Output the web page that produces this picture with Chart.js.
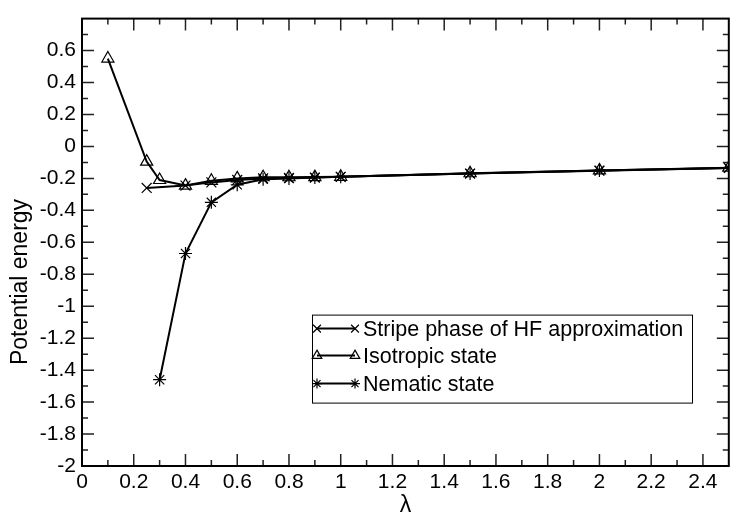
<!DOCTYPE html>
<html>
<head>
<meta charset="utf-8">
<script src="https://cdn.jsdelivr.net/npm/chart.js@4.4.1/dist/chart.umd.min.js"></script>
<style>
  body { margin: 0; background: #fff; }
</style>
</head>
<body>
<canvas id="energyChart" width="737" height="515"></canvas>
<script>
// data
const stripeX = [0.25, 0.4, 0.5, 0.6, 0.7, 0.8, 0.9, 1.0, 1.5, 2.0, 2.5];
const stripeY = [-0.26, -0.245, -0.225, -0.21, -0.2, -0.197, -0.195, -0.19, -0.17, -0.152, -0.135];
const isoX = [0.1, 0.25, 0.3, 0.4, 0.5, 0.6, 0.7, 0.8, 0.9, 1.0, 1.5, 2.0, 2.5];
const isoY = [0.55, -0.095, -0.21, -0.245, -0.215, -0.2, -0.193, -0.193, -0.192, -0.19, -0.168, -0.15, -0.133];
const nemX = [0.3, 0.4, 0.5, 0.6, 0.7, 0.8, 0.9, 1.0, 1.5, 2.0, 2.5];
const nemY = [-1.46, -0.67, -0.35, -0.24, -0.205, -0.2, -0.195, -0.19, -0.17, -0.15, -0.135];

const seriesNames = ["Stripe phase of HF approximation", "Isotropic state", "Nematic state"];
const xTitle = "λ";
const yTitle = "Potential energy";

const FONT = "'Liberation Sans', Arial, sans-serif";

function toPoints(xs, ys) {
  let pts = [];
  for (let i = 0; i < xs.length; i++) {
    pts.push({ x: xs[i], y: ys[i] });
  }
  return pts;
}

const markers = [
  { style: "crossRot", radius: 7 },
  { style: "triangle", radius: 7 },
  { style: "star", radius: 6.5 },
];

function makeDataset(label, pts, m) {
  return {
    label: label,
    data: pts,
    borderColor: "#000",
    borderWidth: 2,
    tension: 0,
    pointStyle: m.style,
    pointRadius: m.radius,
    pointHoverRadius: m.radius,
    pointBorderColor: "#000",
    pointBackgroundColor: "rgba(0,0,0,0)",
    pointBorderWidth: 1.2,
  };
}

// inward ticks on all four sides, frame, y title and boxed legend
const framePlugin = {
  id: "frame",
  afterDraw(chart) {
    const ctx = chart.ctx;
    const a = chart.chartArea;
    const xs = chart.scales.x;
    const ys = chart.scales.y;
    ctx.save();
    ctx.strokeStyle = "#222";
    ctx.lineWidth = 1.5;
    ctx.beginPath();
    for (let i = 1; i < 25; i++) {
      const v = i / 10;
      const px = xs.getPixelForValue(v);
      const len = i % 2 === 0 ? 12 : 6;
      ctx.moveTo(px, a.bottom);
      ctx.lineTo(px, a.bottom - len);
      ctx.moveTo(px, a.top);
      ctx.lineTo(px, a.top + len);
    }
    for (let i = -19; i < 8; i++) {
      const v = i / 10;
      const py = ys.getPixelForValue(v);
      const len = (i + 20) % 2 === 0 ? 12 : 6;
      ctx.moveTo(a.left, py);
      ctx.lineTo(a.left + len, py);
      ctx.moveTo(a.right, py);
      ctx.lineTo(a.right - len, py);
    }
    ctx.stroke();

    ctx.strokeStyle = "#000";
    ctx.lineWidth = 2;
    ctx.strokeRect(a.left, a.top, a.right - a.left, a.bottom - a.top);

    // y axis title
    ctx.fillStyle = "#000";
    ctx.font = "23px " + FONT;
    ctx.textAlign = "center";
    ctx.textBaseline = "middle";
    ctx.translate(21, 282);
    ctx.rotate(-Math.PI / 2);
    ctx.fillText(yTitle, 0, 0);
    ctx.restore();

    // legend box
    ctx.save();
    const lx = a.left + 230;
    const ly = a.top + 296;
    ctx.fillStyle = "#fff";
    ctx.fillRect(lx, ly, 380, 88);
    ctx.strokeStyle = "#000";
    ctx.lineWidth = 1;
    ctx.strokeRect(lx + 0.5, ly + 0.5, 380, 88);
    ctx.font = "21.5px " + FONT;
    ctx.textAlign = "left";
    ctx.textBaseline = "middle";
    ctx.fillStyle = "#000";
    const rowY = [14, 41, 69];
    for (let i = 0; i < seriesNames.length; i++) {
      const y = ly + rowY[i];
      ctx.beginPath();
      ctx.strokeStyle = "#000";
      ctx.lineWidth = 2;
      ctx.moveTo(lx + 5, y);
      ctx.lineTo(lx + 43, y);
      ctx.stroke();
      const opts = {
        pointStyle: markers[i].style,
        radius: markers[i].radius - 1.5,
        borderWidth: 1.2,
        borderColor: "#000",
        backgroundColor: "rgba(0,0,0,0)",
        rotation: 0,
      };
      ctx.fillStyle = "rgba(0,0,0,0)";
      ctx.lineWidth = 1.2;
      Chart.helpers.drawPoint(ctx, opts, lx + 5, y);
      Chart.helpers.drawPoint(ctx, opts, lx + 43, y);
      ctx.fillStyle = "#000";
      ctx.fillText(seriesNames[i], lx + 51, y + 1);
    }
    ctx.restore();
  },
};

function fmt(v) {
  return String(Math.round(v * 10) / 10);
}

const config = {
  type: "line",
  data: {
    datasets: [
      makeDataset(seriesNames[0], toPoints(stripeX, stripeY), markers[0]),
      makeDataset(seriesNames[1], toPoints(isoX, isoY), markers[1]),
      makeDataset(seriesNames[2], toPoints(nemX, nemY), markers[2]),
    ],
  },
  options: {
    responsive: false,
    animation: false,
    devicePixelRatio: 1,
    layout: {
      padding: { top: 12, right: 3, left: 0, bottom: 0 },
    },
    scales: {
      x: {
        type: "linear",
        min: 0,
        max: 2.5,
        afterFit: (s) => { s.height = 49; },
        grid: { display: false, drawTicks: false },
        border: { display: false },
        ticks: {
          stepSize: 0.2,
          includeBounds: false,
          padding: 4,
          color: "#000",
          maxRotation: 0,
          font: { family: FONT, size: 21 },
          callback: (v) => fmt(v),
        },
        title: {
          display: true,
          text: xTitle,
          color: "#000",
          font: { family: FONT, size: 23 },
          padding: { top: 0, bottom: -4 },
        },
      },
      y: {
        type: "linear",
        min: -2,
        max: 0.8,
        afterFit: (s) => { s.width = 82; },
        grid: { display: false, drawTicks: false },
        border: { display: false },
        ticks: {
          stepSize: 0.2,
          includeBounds: false,
          padding: 6,
          color: "#000",
          font: { family: FONT, size: 21 },
          callback: (v) => (v > 0.7 ? "" : fmt(v)),
        },
      },
    },
    plugins: {
      legend: { display: false },
      tooltip: { enabled: false },
    },
  },
  plugins: [framePlugin],
};

const energyChart = new Chart(document.getElementById("energyChart"), config);
</script>
</body>
</html>
